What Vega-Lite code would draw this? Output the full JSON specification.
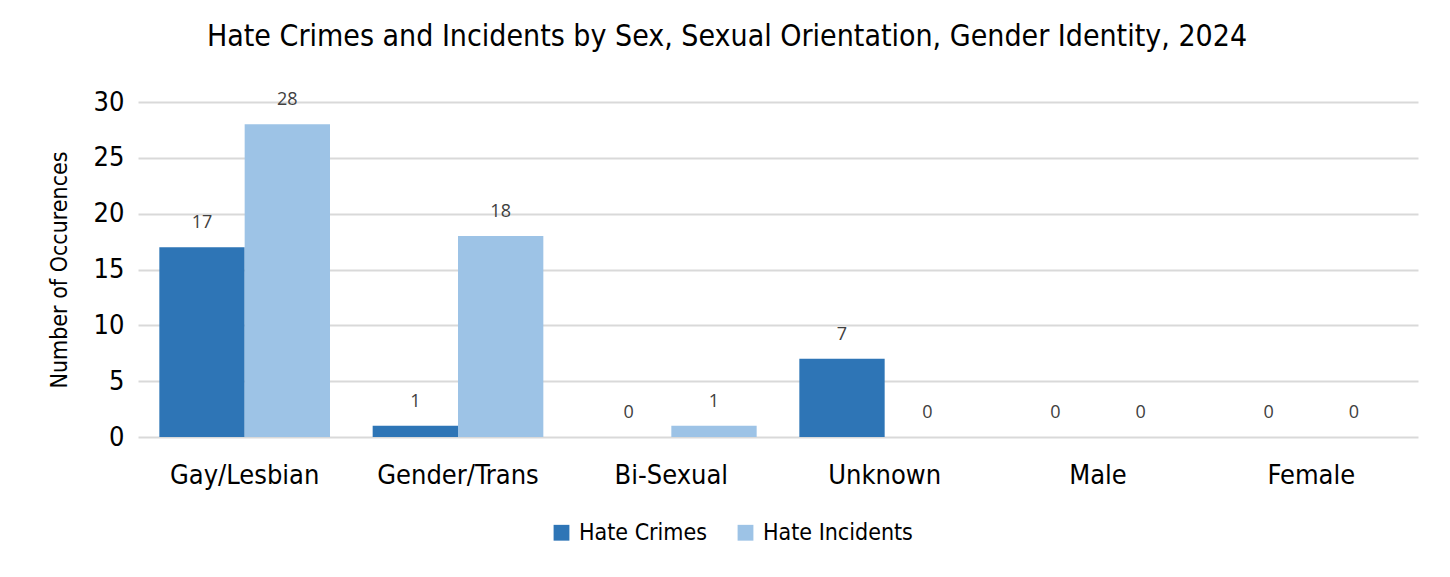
{
  "$schema": "https://vega.github.io/schema/vega-lite/v6.json",
  "autosize": "none",
  "width": 1280,
  "height": 335,
  "padding": {"left": 138, "top": 102, "right": 32, "bottom": 140},
  "background": "white",
  "title": {
    "text": "Hate Crimes and Incidents by Sex, Sexual Orientation, Gender Identity, 2024",
    "font": "Liberation Sans Narrow, DejaVu Sans Condensed, Roboto Condensed, Roboto, sans-serif",
    "fontSize": 30,
    "fontWeight": "normal",
    "color": "#000000",
    "anchor": "middle",
    "dx": -51,
    "offset": 36
  },
  "data": {
    "values": [
      {"category": "Gay/Lesbian", "series": "Hate Crimes", "value": 17},
      {"category": "Gay/Lesbian", "series": "Hate Incidents", "value": 28},
      {"category": "Gender/Trans", "series": "Hate Crimes", "value": 1},
      {"category": "Gender/Trans", "series": "Hate Incidents", "value": 18},
      {"category": "Bi-Sexual", "series": "Hate Crimes", "value": 0},
      {"category": "Bi-Sexual", "series": "Hate Incidents", "value": 1},
      {"category": "Unknown", "series": "Hate Crimes", "value": 7},
      {"category": "Unknown", "series": "Hate Incidents", "value": 0},
      {"category": "Male", "series": "Hate Crimes", "value": 0},
      {"category": "Male", "series": "Hate Incidents", "value": 0},
      {"category": "Female", "series": "Hate Crimes", "value": 0},
      {"category": "Female", "series": "Hate Incidents", "value": 0}
    ]
  },
  "encoding": {
    "x": {
      "field": "category",
      "type": "nominal",
      "sort": null,
      "scale": {"paddingInner": 0.2, "paddingOuter": 0.1},
      "axis": {
        "title": null,
        "labelAngle": 0,
        "labelFont": "Liberation Sans Narrow, DejaVu Sans Condensed, Roboto Condensed, Roboto, sans-serif",
        "labelFontSize": 27,
        "labelColor": "#000000",
        "labelPadding": 25,
        "ticks": false,
        "domain": false
      }
    },
    "xOffset": {"field": "series", "type": "nominal", "scale": {"paddingInner": 0, "paddingOuter": 0}},
    "y": {
      "field": "value",
      "type": "quantitative",
      "scale": {"domain": [0, 30]},
      "axis": {
        "title": "Number of Occurences",
        "titleFont": "Liberation Sans Narrow, DejaVu Sans Condensed, Roboto Condensed, Roboto, sans-serif",
        "titleFontSize": 23,
        "titleFontWeight": "normal",
        "titleColor": "#000000",
        "titlePadding": 22,
        "values": [0, 5, 10, 15, 20, 25, 30],
        "labelFont": "Liberation Sans Narrow, DejaVu Sans Condensed, Roboto Condensed, Roboto, sans-serif",
        "labelFontSize": 27,
        "labelColor": "#000000",
        "labelPadding": 14,
        "ticks": false,
        "domain": false,
        "gridColor": "#d9d9d9",
        "gridWidth": 2
      }
    }
  },
  "layer": [
    {
      "mark": {"type": "bar"},
      "encoding": {
        "color": {
          "field": "series",
          "type": "nominal",
          "scale": {"domain": ["Hate Crimes", "Hate Incidents"], "range": ["#2E75B6", "#9DC3E6"]},
          "legend": {
            "title": null,
            "orient": "none",
            "direction": "horizontal",
            "legendX": 412,
            "legendY": 419,
            "symbolType": "square",
            "symbolSize": 250,
            "symbolStrokeWidth": 0,
            "labelFont": "Liberation Sans Narrow, DejaVu Sans Condensed, Roboto Condensed, Roboto, sans-serif",
            "labelFontSize": 23,
            "labelColor": "#000000",
            "labelOffset": 6,
            "columnPadding": 26
          }
        }
      }
    },
    {
      "mark": {"type": "text", "baseline": "middle", "dy": -24, "font": "Open Sans", "fontSize": 18, "color": "#404040"},
      "encoding": {
        "text": {"field": "value", "type": "quantitative"}
      }
    }
  ],
  "config": {
    "view": {"stroke": null}
  }
}
